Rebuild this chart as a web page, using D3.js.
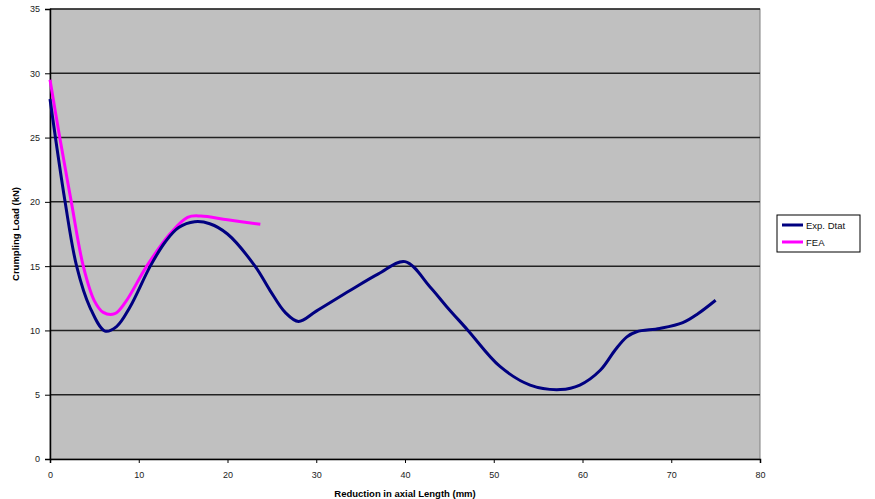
<!DOCTYPE html>
<html>
<head>
<meta charset="utf-8">
<script src="https://cdn.jsdelivr.net/npm/d3@7"></script>
<style>
  body { margin: 0; background: #fff; }
  text { font-family: "Liberation Sans", Arial, sans-serif; }
</style>
</head>
<body>
<svg id="mainsvg" width="875" height="499"></svg>
<script>
// data
const expX = [0, 1.7, 3, 4.5, 6.2, 7.5, 9, 11.3, 13, 14.5, 16.3, 18, 20, 23.1, 24.8, 26.5, 28, 30, 33.8, 37, 40, 42.8, 44.7, 47.1, 50.7, 54.1, 57.5, 59.7, 62, 63.7, 65, 66.1, 68.7, 71.3, 73, 75];
const expY = [28, 20, 15, 11.8, 9.95, 10.3, 11.8, 15, 16.9, 18, 18.45, 18.3, 17.5, 15, 13.1, 11.4, 10.7, 11.5, 13.1, 14.4, 15.35, 13.4, 11.85, 10, 7.2, 5.75, 5.4, 5.75, 6.9, 8.5, 9.5, 9.9, 10.15, 10.6, 11.3, 12.35];
const feaX = [0, 1.1, 2.4, 3.75, 5, 6, 7.3, 8.5, 10.9, 13.5, 15.5, 17, 20, 23.7];
const feaY = [29.5, 25, 20, 15, 12.3, 11.4, 11.3, 12.2, 15, 17.5, 18.8, 18.9, 18.6, 18.25];
const seriesNames = ['Exp. Dtat', 'FEA'];
const seriesColors = ['#000080', '#ff00ff'];
const xTicks = [0, 10, 20, 30, 40, 50, 60, 70, 80];
const yTicks = [0, 5, 10, 15, 20, 25, 30, 35];

const svg = d3.select('#mainsvg');
const margin = {top: 9, right: 115, bottom: 40, left: 50};
const width = +svg.attr('width');
const height = +svg.attr('height');
const innerWidth = width - margin.left - margin.right;
const innerHeight = height - margin.top - margin.bottom;

const chartGroup = svg.append('g').attr('transform', `translate(${margin.left}, ${margin.top})`);

const xScale = d3.scaleLinear().domain([0, 80]).range([0, innerWidth]);
const yScale = d3.scaleLinear().domain([0, 35]).range([innerHeight, 0]);

// plot background
chartGroup.append('rect')
    .attr('width', innerWidth).attr('height', innerHeight)
    .attr('fill', '#c0c0c0')
    .attr('stroke', '#808080').attr('stroke-width', 1);

// gridlines
chartGroup.selectAll('.grid')
    .data(yTicks.filter(d => d > 0))
    .join('line')
    .attr('class', 'grid')
    .attr('x1', 0).attr('x2', innerWidth)
    .attr('y1', d => yScale(d)).attr('y2', d => yScale(d))
    .attr('stroke', '#222').attr('stroke-width', 1.5);

// axes
const xAxis = chartGroup.append('g')
    .attr('transform', `translate(0, ${innerHeight})`)
    .call(d3.axisBottom(xScale).tickValues(xTicks).tickSize(4).tickPadding(9));
const yAxis = chartGroup.append('g')
    .call(d3.axisLeft(yScale).tickValues(yTicks).tickSize(5).tickPadding(5));

[xAxis, yAxis].forEach(ax => {
    ax.select('.domain').attr('stroke', '#000').attr('stroke-width', 1.5);
    ax.selectAll('.tick line').attr('stroke', '#000');
    ax.selectAll('.tick text').style('font-size', '9px').attr('fill', '#222');
});

// lines
const line = d3.line()
    .x(d => xScale(d[0]))
    .y(d => yScale(d[1]))
    .curve(d3.curveCatmullRom.alpha(0.5));

const seriesData = [
    expX.map((x, i) => [x, expY[i]]),
    feaX.map((x, i) => [x, feaY[i]])
];

chartGroup.selectAll('.series')
    .data([1, 0])
    .join('path')
    .attr('class', 'series')
    .attr('d', i => line(seriesData[i]))
    .attr('fill', 'none')
    .attr('stroke', i => seriesColors[i])
    .attr('stroke-width', 3)
    .attr('stroke-linejoin', 'round');

// axis titles
svg.append('text')
    .attr('x', margin.left + innerWidth / 2)
    .attr('y', 497)
    .attr('text-anchor', 'middle')
    .style('font-size', '9.5px')
    .style('font-weight', 'bold')
    .text('Reduction in axial Length (mm)');

svg.append('text')
    .attr('transform', 'rotate(-90)')
    .attr('x', -(margin.top + innerHeight / 2))
    .attr('y', 19)
    .attr('text-anchor', 'middle')
    .style('font-size', '9.5px')
    .style('font-weight', 'bold')
    .text('Crumpling Load (kN)');

// legend
const legend = svg.append('g').attr('transform', 'translate(777, 215)');
legend.append('rect')
    .attr('width', 83).attr('height', 37)
    .attr('fill', '#fff').attr('stroke', '#000').attr('stroke-width', 1);
seriesNames.forEach((name, i) => {
    const y = 10 + i * 17;
    legend.append('line')
        .attr('x1', 5).attr('x2', 26).attr('y1', y).attr('y2', y)
        .attr('stroke', seriesColors[i]).attr('stroke-width', 3);
    legend.append('text')
        .attr('x', 29).attr('y', y + 3.5)
        .style('font-size', '9.5px')
        .attr('fill', '#111')
        .text(name);
});
</script>
</body>
</html>
